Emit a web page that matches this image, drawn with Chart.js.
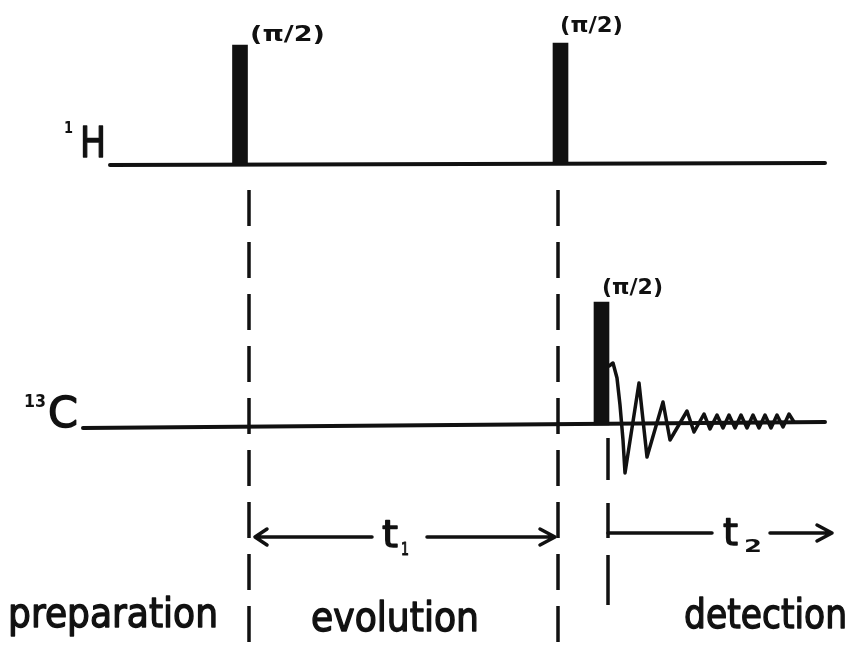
<!DOCTYPE html>
<html><head><meta charset="utf-8">
<script src="https://cdn.jsdelivr.net/npm/chart.js@4"></script>
<style>html,body{margin:0;padding:0;background:#fff}#wrap{width:851px;height:647px}</style>
</head><body><div id="wrap"><canvas id="c" width="851" height="647"></canvas></div>
<script>
// Diagram units: x = time position, y = level (drawn top-down)
const pulseTimes = [240, 560.5, 601.5];
const pulseTops  = [45, 43, 302];
const pulseBases = [164, 163, 425];
const pulseLabels = ['(π/2)', '(π/2)', '(π/2)'];

const baseHx = [110, 825], baseHy = [165, 163];
const baseCx = [83, 825],  baseCy = [428, 422];

const fidX = [609, 613, 617, 620, 623, 625, 639, 647, 663, 670, 687, 694, 704, 710, 717, 723, 729, 735, 741, 747, 753, 759, 765, 771, 777, 783, 789, 794];
const fidY = [366, 363, 378, 405, 440, 473, 383, 457, 402, 440, 411, 432, 414, 429, 415, 428, 415, 428, 415, 428, 415, 428, 415, 428, 415, 427, 414, 422];

const markerTimes = [249, 558, 608];
const markerTops = [190, 190, 438];
const markerBottoms = [647, 647, 605];

const t1Arrow = {from: 255, to: 555, gapFrom: 372, gapTo: 427, level: 537};
const t2Arrow = {from: 608, to: 832, gapFrom: 712, gapTo: 770, level: 533};

const phaseLabels = ['preparation', 'evolution', 'detection'];

const ink = '#111';
const lineDs = (data, extra) => Object.assign({
  type: 'line', data, borderColor: ink, borderWidth: 3.5, pointRadius: 0,
  fill: false, tension: 0, spanGaps: false, borderCapStyle: 'round', borderJoinStyle: 'round'
}, extra || {});

const datasets = [];
datasets.push({
  type: 'bar',
  data: pulseTimes.map((t, i) => ({x: t, y: [pulseTops[i], pulseBases[i]]})),
  backgroundColor: ink, borderWidth: 0, barThickness: 15, grouped: false
});
datasets.push(lineDs(baseHx.map((x, i) => ({x, y: baseHy[i]})), {borderWidth: 4}));
datasets.push(lineDs(baseCx.map((x, i) => ({x, y: baseCy[i]})), {borderWidth: 4}));
datasets.push(lineDs(fidX.map((x, i) => ({x, y: fidY[i]}))));
const dashPatterns = [[36, 16], [36, 16], [42, 23, 35, 17, 60, 20]];
markerTimes.forEach((t, i) => {
  datasets.push(lineDs([{x: t, y: markerTops[i]}, {x: t, y: markerBottoms[i]}],
    {borderDash: dashPatterns[i], borderCapStyle: 'butt'}));
});
function arrowData(a, leftHead, rightHead) {
  const d = [{x: a.from, y: a.level}, {x: a.gapFrom, y: a.level}, {x: null, y: null},
             {x: a.gapTo, y: a.level}, {x: a.to, y: a.level}];
  if (rightHead) d.push({x: null, y: null}, {x: a.to - 15, y: a.level - 8}, {x: a.to, y: a.level}, {x: a.to - 15, y: a.level + 8});
  if (leftHead) d.push({x: null, y: null}, {x: a.from + 12, y: a.level - 8}, {x: a.from, y: a.level}, {x: a.from + 12, y: a.level + 8});
  return d;
}
datasets.push(lineDs(arrowData(t1Arrow, true, true)));
datasets.push(lineDs(arrowData(t2Arrow, false, true)));

const textPlugin = {
  id: 'texts',
  afterDatasetsDraw(chart) {
    const ctx = chart.ctx, sx = chart.scales.x, sy = chart.scales.y;
    const px = v => sx.getPixelForValue(v), py = v => sy.getPixelForValue(v);
    ctx.save();
    ctx.fillStyle = ink;
    ctx.strokeStyle = ink;
    ctx.textBaseline = 'alphabetic';
    ctx.textAlign = 'left';
    function fit(text, font, x0, x1, base, thick) {
      ctx.font = font;
      const w = ctx.measureText(text).width;
      ctx.save();
      ctx.translate(px(x0), py(base));
      ctx.scale((px(x1) - px(x0)) / w, 1);
      ctx.fillText(text, 0, 0);
      if (thick) { ctx.lineWidth = thick; ctx.lineJoin = 'round'; ctx.strokeText(text, 0, 0); }
      ctx.restore();
    }
    const F = 'DejaVu Sans';
    // pulse labels
    fit(pulseLabels[0], 'bold 21px "' + F + '"', 250, 325, 41);
    fit(pulseLabels[1], 'bold 21px "' + F + '"', 560, 623, 32);
    fit(pulseLabels[2], 'bold 21px "' + F + '"', 602, 663, 294);
    // channel labels
    fit('1', 'bold 16px "' + F + '"', 64, 73, 133);
    fit('H', '42px "' + F + '"', 80, 106, 157, 1.4);
    fit('13', 'bold 17px "' + F + '"', 24, 46, 407);
    fit('C', '42px "' + F + '"', 48, 78, 427, 1.4);
    // time labels
    fit('t', '38px "' + F + '"', 382, 398, 547, 1.4);
    fit('1', '18px "' + F + '"', 401, 409, 555, 1);
    fit('t', '38px "' + F + '"', 723, 738, 545, 1.4);
    fit('2', 'bold 18px "' + F + '"', 744, 762, 552);
    // phase labels
    fit(phaseLabels[0], '40px "' + F + '"', 8, 218, 627, 1.4);
    fit(phaseLabels[1], '40px "' + F + '"', 311, 479, 631, 1.4);
    fit(phaseLabels[2], '40px "' + F + '"', 684, 847, 628, 1.4);
    ctx.restore();
  }
};

new Chart(document.getElementById('c'), {
  data: {datasets},
  options: {
    responsive: false, animation: false, devicePixelRatio: 1,
    layout: {padding: 0},
    plugins: {legend: {display: false}, tooltip: {enabled: false}},
    scales: {
      x: {type: 'linear', min: 0, max: 851, offset: false, display: false},
      y: {type: 'linear', min: 0, max: 647, reverse: true, display: false}
    }
  },
  plugins: [textPlugin]
});
</script>
</body></html>
